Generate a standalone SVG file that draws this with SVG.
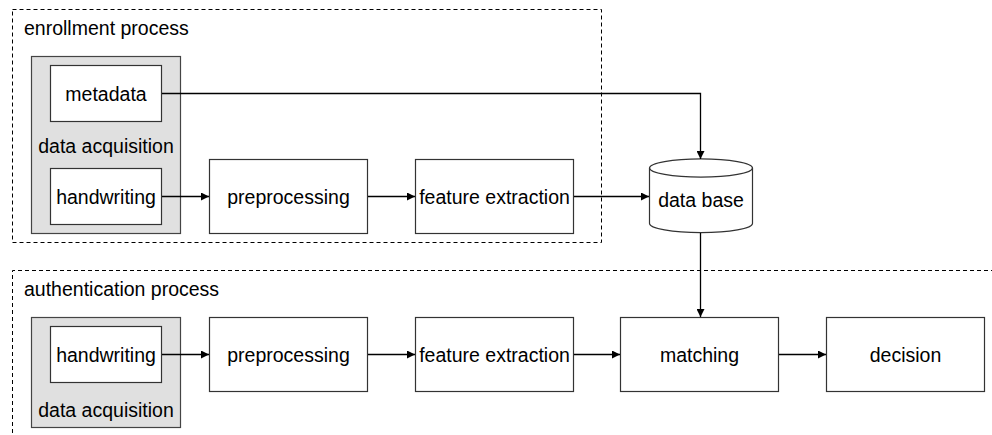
<svg xmlns="http://www.w3.org/2000/svg" width="992" height="435" viewBox="0 0 992 435">
  <style>
    text { font-family: "Liberation Sans", Arial, sans-serif; font-size: 19.5px; fill: #000; }
    .c { text-anchor: middle; dominant-baseline: central; }
    .box { fill: #fff; stroke: #333; stroke-width: 1.2; }
    .group { fill: #e0e0e0; stroke: #444; stroke-width: 1.2; }
    .frame { fill: none; stroke: #000; stroke-width: 1; stroke-dasharray: 4 3; }
    .edge { fill: none; stroke: #000; stroke-width: 1.3; }
  </style>
  <defs>
    <marker id="arrow" viewBox="0 0 10 10" refX="10" refY="5" markerWidth="8" markerHeight="8" markerUnits="userSpaceOnUse" orient="auto">
      <path d="M0,0 L10,5 L0,10 z" fill="#000"/>
    </marker>
  </defs>

  <!-- process frames -->
  <g id="enrollment-frame">
    <rect class="frame" x="12.5" y="9.5" width="589" height="233"/>
    <text x="24" y="35">enrollment process</text>
  </g>
  <g id="authentication-frame">
    <path class="frame" d="M12.5,440 V270.5 H1000"/>
    <text x="24" y="296">authentication process</text>
  </g>

  <!-- enrollment nodes -->
  <g id="enroll-acquisition">
    <rect class="group" x="31.5" y="56.5" width="149" height="177"/>
    <text class="c" x="106" y="146">data acquisition</text>
  </g>
  <g id="enroll-metadata">
    <rect class="box" x="50.5" y="65.5" width="111" height="56"/>
    <text class="c" x="106" y="94">metadata</text>
  </g>
  <g id="enroll-handwriting">
    <rect class="box" x="50.5" y="168.5" width="111" height="56"/>
    <text class="c" x="106" y="197">handwriting</text>
  </g>
  <g id="enroll-preprocessing">
    <rect class="box" x="209.5" y="159.5" width="158" height="74"/>
    <text class="c" x="288.5" y="197">preprocessing</text>
  </g>
  <g id="enroll-feature">
    <rect class="box" x="415.5" y="159.5" width="158" height="74"/>
    <text class="c" x="494.5" y="197">feature extraction</text>
  </g>
  <g id="database">
    <path class="box" d="M649.5,168 A51,9 0 0 1 752.5,168 V223.5 A51,9 0 0 1 649.5,223.5 Z"/>
    <path class="box" style="fill:none" d="M649.5,168 A51,9 0 0 0 752.5,168"/>
    <text class="c" x="701" y="200">data base</text>
  </g>

  <!-- authentication nodes -->
  <g id="auth-acquisition">
    <rect class="group" x="31.5" y="317.5" width="149" height="110"/>
    <text class="c" x="106" y="410">data acquisition</text>
  </g>
  <g id="auth-handwriting">
    <rect class="box" x="50.5" y="326.5" width="111" height="56"/>
    <text class="c" x="106" y="355">handwriting</text>
  </g>
  <g id="auth-preprocessing">
    <rect class="box" x="209.5" y="317.5" width="158" height="74"/>
    <text class="c" x="288.5" y="355">preprocessing</text>
  </g>
  <g id="auth-feature">
    <rect class="box" x="415.5" y="317.5" width="158" height="74"/>
    <text class="c" x="494.5" y="355">feature extraction</text>
  </g>
  <g id="matching">
    <rect class="box" x="620.5" y="317.5" width="158" height="74"/>
    <text class="c" x="699.5" y="355">matching</text>
  </g>
  <g id="decision">
    <rect class="box" x="826.5" y="317.5" width="158" height="74"/>
    <text class="c" x="905.5" y="355">decision</text>
  </g>

  <!-- connectors -->
  <g id="connectors">
    <path class="edge" marker-end="url(#arrow)" d="M162,93.5 H700.5 V159"/>
    <path class="edge" marker-end="url(#arrow)" d="M162,196.5 H209"/>
    <path class="edge" marker-end="url(#arrow)" d="M368,196.5 H415"/>
    <path class="edge" marker-end="url(#arrow)" d="M574,196.5 H649"/>
    <path class="edge" marker-end="url(#arrow)" d="M700.5,233 V317"/>
    <path class="edge" marker-end="url(#arrow)" d="M162,354.5 H209"/>
    <path class="edge" marker-end="url(#arrow)" d="M368,354.5 H415"/>
    <path class="edge" marker-end="url(#arrow)" d="M574,354.5 H620"/>
    <path class="edge" marker-end="url(#arrow)" d="M779,354.5 H826"/>
  </g>
</svg>
